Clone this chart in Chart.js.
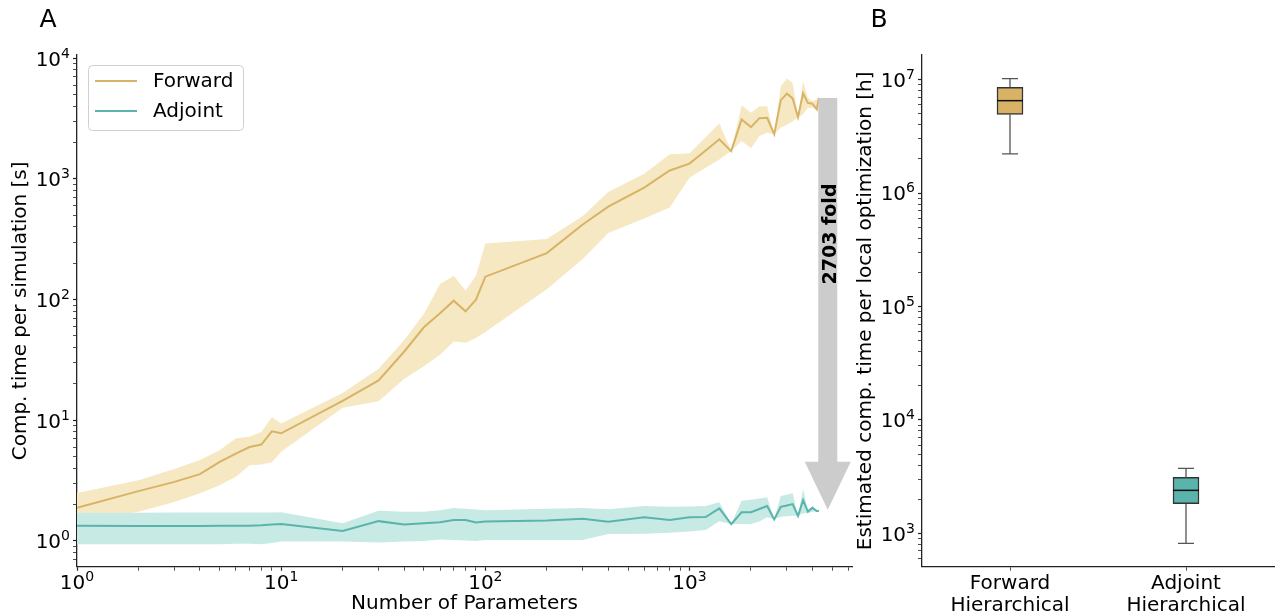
<!DOCTYPE html>
<html>
<head>
<meta charset="utf-8">
<script src="https://cdn.jsdelivr.net/npm/chart.js@4.4.1/dist/chart.umd.min.js"></script>
<style>
  html, body { margin: 0; padding: 0; background: #fff; }
  #wrap { position: relative; width: 1276px; height: 616px; overflow: hidden; }
  #chartA { position: absolute; left: 0; top: 0; }
  #chartB { position: absolute; left: 852px; top: 0; }
</style>
</head>
<body>
<div id="wrap">
  <canvas id="chartA" width="858" height="616"></canvas>
  <canvas id="chartB" width="424" height="616"></canvas>
</div>
<script>
// panel A: computation time per simulation vs number of parameters
const nParams = [1, 2, 3, 4, 5, 6, 7, 8, 9, 10,
  20, 30, 40, 50, 60, 70, 80, 90, 100,
  200, 300, 400, 600, 800, 1000,
  1200, 1400, 1600, 1800, 2000, 2200, 2400, 2600, 2800, 3000, 3200, 3400, 3600, 3800, 4000, 4200, 4300];

const forwardMedian = [1.88, 2.59, 3.09, 3.58, 4.52, 5.3, 6.0, 6.3, 8.1, 7.8,
  14.5, 21.4, 37, 59, 77, 98, 80, 100, 155,
  243, 419, 590, 847, 1175, 1340,
  1720, 2130, 1700, 3110, 2690, 3190, 3210, 2350, 4500, 5100, 4650, 3250, 5130, 4270, 4200, 3770, 4700];
const forwardUpper = [2.5, 3.19, 3.94, 4.68, 5.65, 7.1, 7.3, 8.0, 10.6, 9.4,
  16.8, 26.8, 46, 76, 135, 158, 119, 158, 292,
  318, 494, 781, 1107, 1600, 1630,
  2220, 2890, 1703, 4090, 3530, 4010, 4010, 2350, 5870, 6790, 6240, 3250, 6450, 4700, 4400, 4560, 4800];
const forwardLower = [1.45, 1.75, 2.1, 2.48, 2.9, 3.4, 4.25, 4.3, 4.5, 5.5,
  12.7, 14.4, 22, 28, 35, 45, 44, 48, 54,
  122, 217, 356, 470, 579, 1025,
  1240, 1450, 1703, 2060, 1795, 2265, 2415, 2350, 2660, 2830, 3015, 3250, 3430, 3890, 3900, 3770, 4600];

const adjointMedian = [1.34, 1.33, 1.33, 1.33, 1.34, 1.34, 1.34, 1.35, 1.37, 1.38,
  1.21, 1.46, 1.37, 1.40, 1.43, 1.49, 1.49, 1.42, 1.45,
  1.48, 1.53, 1.44, 1.57, 1.49, 1.57,
  1.58, 1.86, 1.38, 1.73, 1.73, 1.84, 1.95, 1.51, 1.92, 1.97, 2.02, 1.61, 2.18, 1.75, 1.88, 1.77, 1.77];
const adjointUpper = [1.71, 1.71, 1.72, 1.72, 1.72, 1.72, 1.72, 1.72, 1.72, 1.73,
  1.40, 1.78, 1.75, 1.75, 1.80, 1.88, 1.85, 1.82, 1.80,
  1.85, 1.88, 1.83, 1.95, 1.92, 1.93,
  1.95, 2.09, 1.38, 2.15, 2.20, 2.25, 2.30, 1.51, 2.36, 2.42, 2.48, 1.61, 2.69, 1.80, 1.95, 1.80, 1.80];
const adjointLower = [0.94, 0.94, 0.94, 0.94, 0.94, 0.95, 0.95, 0.94, 0.96, 0.99,
  0.99, 0.97, 0.99, 1.0, 1.03, 1.02, 1.01, 1.0, 1.02,
  1.02, 1.02, 1.14, 1.15, 1.17, 1.20,
  1.23, 1.46, 1.38, 1.38, 1.38, 1.45, 1.57, 1.51, 1.59, 1.60, 1.62, 1.61, 1.70, 1.70, 1.75, 1.75, 1.75];

// tick labels are written as base and exponent (10^k)
const xTickValues = [1, 10, 100, 1000];
const xTickExps = ['0', '1', '2', '3'];
const yTickValuesA = [1, 10, 100, 1000, 10000];
const yTickExpsA = ['0', '1', '2', '3', '4'];

// fold-change arrow
const arrowAt = 4755;
const arrowFrom = 4680;
const arrowTo = 1.81;
const arrowLabelAt = 350;
const arrowText = '2703 fold';

// panel B: box plots
const boxLabels = [['Forward', 'Hierarchical'], ['Adjoint', 'Hierarchical']];
const boxMin = [2.22e6, 816];
const boxQ1 = [4.95e6, 1823];
const boxMedian = [6.53e6, 2393];
const boxQ3 = [8.56e6, 3113];
const boxMax = [1.02e7, 3735];
const yTickValuesB = [1e3, 1e4, 1e5, 1e6, 1e7];
const yTickExpsB = ['3', '4', '5', '6', '7'];

const FORWARD = '#d8b365';
const ADJOINT = '#5ab4ac';
const FORWARD_FILL = '#f6e8c3';
const ADJOINT_FILL = '#c7eae5';
const AXIS = '#222';
const FONT = 'DejaVu Sans';

Chart.defaults.font.family = FONT;
Chart.defaults.color = '#000';

function logTicks(min, max) {
  const out = [];
  for (let e = Math.floor(Math.log10(min)); e <= Math.ceil(Math.log10(max)); e++) {
    for (let m = 1; m < 10; m++) {
      const v = m * Math.pow(10, e);
      if (v >= min && v <= max) out.push({ value: v, major: m === 1 });
    }
  }
  return out;
}

const tickGrid = {
  display: true,
  drawOnChartArea: false,
  color: AXIS,
  tickLength: 4,
  tickWidth: (c) => (c.tick && c.tick.major ? 1.2 : 0.8)
};

function xy(xs, ys) {
  return xs.map((x, i) => ({ x: x, y: ys[i] }));
}

// "10" with a raised exponent, like mathtext
const powerLabels = (axes) => ({
  id: 'powerLabels',
  afterDraw(chart) {
    const ctx = chart.ctx;
    ctx.save();
    ctx.fillStyle = '#000';
    ctx.textAlign = 'left';
    ctx.textBaseline = 'alphabetic';
    axes.forEach(a => {
      const scale = chart.scales[a.axis];
      a.values.forEach((v, i) => {
        const p = scale.getPixelForValue(v);
        ctx.font = '20px "' + FONT + '"';
        const wb = ctx.measureText('10').width;
        ctx.font = '14px "' + FONT + '"';
        const we = ctx.measureText(a.exps[i]).width;
        let x0, base;
        if (scale.isHorizontal()) {
          x0 = p - (wb + we) / 2;
          base = scale.top + 22.6;
        } else {
          x0 = chart.chartArea.left - 7 - wb - we;
          base = p + 7.3;
        }
        ctx.font = '20px "' + FONT + '"';
        ctx.fillText('10', x0, base);
        ctx.font = '14px "' + FONT + '"';
        ctx.fillText(a.exps[i], x0 + wb, base - 8);
      });
    });
    ctx.restore();
  }
});

const panelLetter = (letter, x, y) => ({
  id: 'letter' + letter,
  afterDraw(chart) {
    const ctx = chart.ctx;
    ctx.save();
    ctx.font = '25px "' + FONT + '"';
    ctx.fillStyle = '#000';
    ctx.textAlign = 'center';
    ctx.textBaseline = 'middle';
    ctx.fillText(letter, x, y);
    ctx.restore();
  }
});

const legendBox = {
  id: 'legendBox',
  afterDatasetsDraw(chart) {
    const { ctx, chartArea } = chart;
    const items = chart.data.datasets.filter(d => d.label);
    const x0 = chartArea.left + 11, y0 = chartArea.top + 10;
    ctx.save();
    ctx.fillStyle = 'rgba(255,255,255,0.8)';
    ctx.strokeStyle = '#d0d0d0';
    ctx.lineWidth = 1;
    ctx.beginPath();
    ctx.roundRect(x0 + 0.5, y0 + 0.5, 155, 65, 4);
    ctx.fill();
    ctx.stroke();
    ctx.font = '20px "' + FONT + '"';
    ctx.textBaseline = 'middle';
    items.forEach((d, i) => {
      const y = y0 + 16 + i * 30;
      ctx.strokeStyle = d.borderColor;
      ctx.lineWidth = 2;
      ctx.beginPath();
      ctx.moveTo(x0 + 7, y);
      ctx.lineTo(x0 + 49, y);
      ctx.stroke();
      ctx.fillStyle = '#000';
      ctx.fillText(d.label, x0 + 65, y + 1);
    });
    ctx.restore();
  }
};

const foldArrow = {
  id: 'foldArrow',
  afterDatasetsDraw(chart) {
    const { ctx, scales: { x, y } } = chart;
    const cx = x.getPixelForValue(arrowAt);
    const top = y.getPixelForValue(arrowFrom);
    const tip = y.getPixelForValue(arrowTo);
    const shaft = 9.5, head = 23, headLen = 48;
    ctx.save();
    ctx.fillStyle = '#cccccc';
    ctx.beginPath();
    ctx.moveTo(cx - shaft, top);
    ctx.lineTo(cx + shaft, top);
    ctx.lineTo(cx + shaft, tip - headLen);
    ctx.lineTo(cx + head, tip - headLen);
    ctx.lineTo(cx, tip);
    ctx.lineTo(cx - head, tip - headLen);
    ctx.lineTo(cx - shaft, tip - headLen);
    ctx.closePath();
    ctx.fill();
    ctx.translate(cx + 3, y.getPixelForValue(arrowLabelAt));
    ctx.rotate(-Math.PI / 2);
    ctx.font = 'bold 19px "' + FONT + '"';
    ctx.fillStyle = '#000';
    ctx.textAlign = 'center';
    ctx.textBaseline = 'middle';
    ctx.fillText(arrowText, 0, 0);
    ctx.restore();
  }
};

const band = (data, color, order, fill) => ({
  data: data, fill: fill, backgroundColor: color, borderColor: 'rgba(0,0,0,0)',
  borderWidth: 0, pointRadius: 0, order: order
});

new Chart(document.getElementById('chartA'), {
  type: 'line',
  data: {
    datasets: [
      band(xy(nParams, forwardUpper), FORWARD_FILL, 6, '+1'),
      band(xy(nParams, forwardLower), FORWARD_FILL, 5, false),
      { label: 'Forward', data: xy(nParams, forwardMedian), borderColor: FORWARD, borderWidth: 2,
        pointRadius: 0, fill: false, order: 4 },
      band(xy(nParams, adjointUpper), ADJOINT_FILL, 3, '+1'),
      band(xy(nParams, adjointLower), ADJOINT_FILL, 2, false),
      { label: 'Adjoint', data: xy(nParams, adjointMedian), borderColor: ADJOINT, borderWidth: 2,
        pointRadius: 0, fill: false, order: 1 }
    ]
  },
  options: {
    responsive: false,
    animation: false,
    layout: { padding: { top: 55, right: 6, left: 0, bottom: 0 } },
    plugins: { legend: { display: false }, tooltip: { enabled: false } },
    scales: {
      x: {
        type: 'logarithmic', min: 1, max: 6250, bounds: 'data',
        afterBuildTicks: s => { s.ticks = logTicks(1, 6250); },
        afterFit: s => { s.height = 49.3; },
        grid: tickGrid,
        border: { display: true, color: AXIS, width: 1.3 },
        ticks: { display: false, autoSkip: false },
        title: { display: true, text: 'Number of Parameters', font: { size: 20 },
          padding: { top: 0, bottom: 0 } }
      },
      y: {
        type: 'logarithmic', min: 0.612, max: 10650, bounds: 'data',
        afterBuildTicks: s => { s.ticks = logTicks(0.612, 10650); },
        afterFit: s => { s.width = 77; },
        grid: tickGrid,
        border: { display: true, color: AXIS, width: 1.3 },
        ticks: { display: false, autoSkip: false },
        title: { display: true, text: 'Comp. time per simulation [s]', font: { size: 20 },
          padding: { top: 9, bottom: 0 } }
      }
    }
  },
  plugins: [legendBox, foldArrow, panelLetter('A', 48, 20),
    powerLabels([{ axis: 'x', values: xTickValues, exps: xTickExps },
                 { axis: 'y', values: yTickValuesA, exps: yTickExpsA }])]
});

const whiskers = {
  id: 'whiskers',
  afterDatasetsDraw(chart) {
    const { ctx, scales: { x, y } } = chart;
    ctx.save();
    boxMedian.forEach((med, i) => {
      const cx = x.getPixelForValue(i);
      ctx.strokeStyle = '#555';
      ctx.lineWidth = 1.3;
      ctx.beginPath();
      ctx.moveTo(cx, y.getPixelForValue(boxQ3[i]));
      ctx.lineTo(cx, y.getPixelForValue(boxMax[i]));
      ctx.moveTo(cx - 8, y.getPixelForValue(boxMax[i]));
      ctx.lineTo(cx + 8, y.getPixelForValue(boxMax[i]));
      ctx.moveTo(cx, y.getPixelForValue(boxQ1[i]));
      ctx.lineTo(cx, y.getPixelForValue(boxMin[i]));
      ctx.moveTo(cx - 8, y.getPixelForValue(boxMin[i]));
      ctx.lineTo(cx + 8, y.getPixelForValue(boxMin[i]));
      ctx.stroke();
      ctx.strokeStyle = '#111';
      ctx.lineWidth = 1.5;
      ctx.beginPath();
      ctx.moveTo(cx - 13, y.getPixelForValue(med));
      ctx.lineTo(cx + 13, y.getPixelForValue(med));
      ctx.stroke();
    });
    ctx.restore();
  }
};

new Chart(document.getElementById('chartB'), {
  type: 'bar',
  data: {
    labels: boxLabels,
    datasets: [{
      data: boxQ1.map((q, i) => [q, boxQ3[i]]),
      backgroundColor: [FORWARD, ADJOINT],
      borderColor: '#333',
      borderWidth: 1.5,
      borderSkipped: false,
      barThickness: 26
    }]
  },
  options: {
    responsive: false,
    animation: false,
    layout: { padding: { top: 55, right: 2, left: 0, bottom: 0 } },
    plugins: { legend: { display: false }, tooltip: { enabled: false } },
    scales: {
      x: {
        type: 'category', offset: true,
        afterFit: s => { s.height = 49.3; },
        grid: Object.assign({}, tickGrid, { offset: false }),
        border: { display: true, color: AXIS, width: 1.3 },
        ticks: { font: { size: 20, lineHeight: 1.1 }, maxRotation: 0, padding: 2 }
      },
      y: {
        type: 'logarithmic', min: 508, max: 1.65e7, bounds: 'data',
        afterBuildTicks: s => { s.ticks = logTicks(508, 1.65e7); },
        afterFit: s => { s.width = 70; },
        grid: tickGrid,
        border: { display: true, color: AXIS, width: 1.3 },
        ticks: { display: false, autoSkip: false },
        title: { display: true, text: 'Estimated comp. time per local optimization [h]',
          font: { size: 20 }, padding: { top: 2, bottom: 0 } }
      }
    }
  },
  plugins: [whiskers, panelLetter('B', 27, 20),
    powerLabels([{ axis: 'y', values: yTickValuesB, exps: yTickExpsB }])]
});
</script>
</body>
</html>
